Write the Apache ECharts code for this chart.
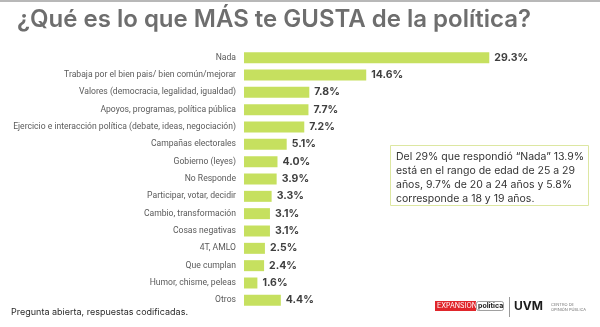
<!DOCTYPE html>
<html>
<head>
<meta charset="utf-8">
<script src="https://cdn.jsdelivr.net/npm/echarts@6/dist/echarts.min.js"></script>
<style>
  html, body { margin: 0; padding: 0; background: #fff; }
  #chart { width: 600px; height: 327px; }
</style>
</head>
<body>
<div id="chart"></div>
<script>
// Survey responses: what people like MOST about politics (%)
const categories = [
  'Nada',
  'Trabaja por el bien pais/ bien común/mejorar',
  'Valores (democracia, legalidad, igualdad)',
  'Apoyos, programas, política pública',
  'Ejercicio e interacción política (debate, ideas, negociación)',
  'Campañas electorales',
  'Gobierno (leyes)',
  'No Responde',
  'Participar, votar, decidir',
  'Cambio, transformación',
  'Cosas negativas',
  '4T, AMLO',
  'Que cumplan',
  'Humor, chisme, peleas',
  'Otros'
];
const values = [29.3, 14.6, 7.8, 7.7, 7.2, 5.1, 4.0, 3.9, 3.3, 3.1, 3.1, 2.5, 2.4, 1.6, 4.4];

const titleText = '¿Qué es lo que MÁS te GUSTA de la política?';
const noteText = 'Pregunta abierta, respuestas codificadas.';
const boxLines = [
  'Del 29% que respondió “Nada” 13.9%',
  'está en el rango de edad de 25 a 29',
  'años, 9.7% de 20 a 24 años y 5.8%',
  'corresponde a 18 y 19 años.'
];

const chart = echarts.init(document.getElementById('chart'), null, { renderer: 'canvas' });
const font = 'Inter, "Noto Sans", sans-serif';
const labelFont = 'Roboto, "Noto Sans", sans-serif';

chart.setOption({
  backgroundColor: '#ffffff',
  animation: false,
  grid: { left: 244, right: 63, top: 49, bottom: 18, containLabel: false, outerBoundsMode: 'none' },
  xAxis: {
    type: 'value', min: 0, max: 35,
    show: false
  },
  yAxis: {
    type: 'category',
    data: categories,
    inverse: true,
    axisLine: { show: false },
    axisTick: { show: false },
    splitLine: { show: false },
    axisLabel: {
      margin: 8,
      color: '#5a5a5a',
      fontSize: 8.6,
      fontFamily: labelFont
    }
  },
  series: [{
    type: 'bar',
    data: values,
    barWidth: 11,
    itemStyle: { color: '#c6e05f' },
    label: {
      show: true,
      position: 'right',
      distance: 5,
      formatter: p => p.value.toFixed(1) + '%',
      color: '#3f3f3f',
      fontSize: 10.5,
      fontWeight: 'bold',
      fontFamily: font
    }
  }],
  graphic: [
    // thin rule along the top edge
    { type: 'rect', shape: { x: 0, y: 0, width: 600, height: 2 }, style: { fill: '#b8b8b8' } },
    {
      type: 'text', left: 17, top: 8,
      style: { text: titleText, fill: '#6e6e6e', font: '600 24px ' + font }
    },
    // annotation box
    {
      type: 'rect', shape: { x: 390.5, y: 145.5, width: 198, height: 60 },
      style: { fill: '#ffffff', stroke: '#dde7a2', lineWidth: 1 }
    },
    {
      type: 'text', left: 396, top: 150,
      style: { text: boxLines.join('\n'), fill: '#333333', font: '10.5px ' + font, lineHeight: 14 }
    },
    {
      type: 'text', left: 11, top: 308,
      style: { text: noteText, fill: '#2a2a2a', font: '9px ' + font }
    },
    // publisher marks
    { type: 'rect', shape: { x: 435, y: 301, width: 41, height: 10 }, style: { fill: '#e0262b' } },
    { type: 'text', left: 437, top: 302, style: { text: 'EXPANSION', fill: '#ffffff', font: '7px ' + font } },
    { type: 'rect', shape: { x: 476.5, y: 301.5, width: 27, height: 9, r: 2 }, style: { fill: '#ffffff', stroke: '#777777', lineWidth: 0.7 } },
    { type: 'text', left: 478, top: 302, style: { text: 'política', fill: '#222222', font: 'bold 7px ' + font } },
    { type: 'rect', shape: { x: 509, y: 297, width: 1, height: 20 }, style: { fill: '#9a9a9a' } },
    { type: 'text', left: 514, top: 300, style: { text: 'UVM', fill: '#1c1c1c', font: 'bold 12px ' + font } },
    { type: 'text', left: 551, top: 302, style: { text: 'CENTRO DE\nOPINIÓN PÚBLICA', fill: '#777777', font: '4px ' + font, lineHeight: 5 } }
  ]
});
</script>
</body>
</html>
